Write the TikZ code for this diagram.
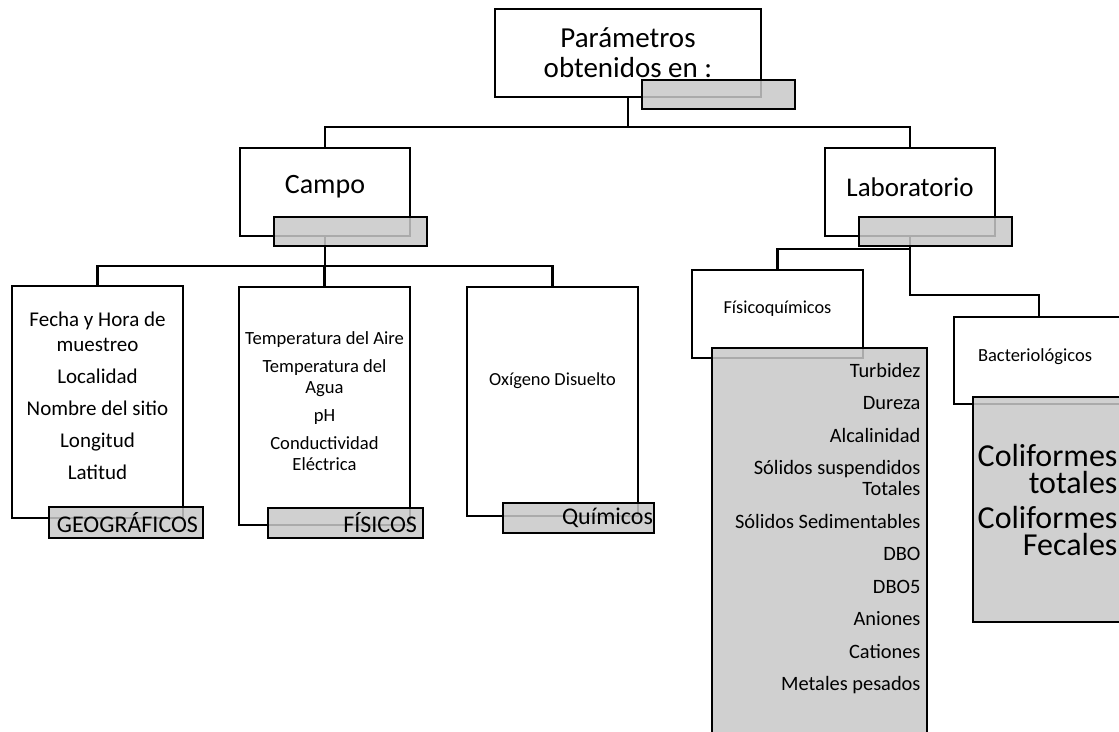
\documentclass[tikz,border=0pt]{standalone}
\usepackage{fontspec}
\setmainfont{Carlito}
\definecolor{boxgray}{RGB}{200,200,200}
\tikzset{
    whitebox/.style={draw,line width=2.3pt,fill=white,inner sep=0pt},
    graybox/.style={draw,line width=2.3pt,fill=boxgray,fill opacity=0.85,text opacity=1,inner sep=0pt},
    link/.style={line width=2.3pt},
}

\begin{document}
\begin{tikzpicture}[x=1pt,y=-1pt]
    \useasboundingbox (0,0) rectangle (1119,731);
    \clip (0,0) rectangle (1119,731);
    % white boxes
    \node[whitebox,minimum width=266pt,minimum height=88pt] (top) at (628,53) {};
    \node[whitebox,minimum width=170pt,minimum height=88pt] (campo) at (325,192) {};
    \node[whitebox,minimum width=170pt,minimum height=88pt] (lab) at (910,192) {};
    \node[whitebox,minimum width=171pt,minimum height=232pt] (geo) at (97.5,402) {};
    \node[whitebox,minimum width=171pt,minimum height=238pt] (fis) at (324.5,406) {};
    \node[whitebox,minimum width=171pt,minimum height=229pt] (quim) at (552.5,401.5) {};
    \node[whitebox,minimum width=171pt,minimum height=88pt] (fq) at (777.5,314) {};
    \node[whitebox,minimum width=170pt,minimum height=87pt] (bact) at (1039,360.5) {};
    % connectors
    \coordinate (bus1) at (628,127);
    \coordinate (bus2) at (325,266);
    \coordinate (bus3) at (910,249);
    \coordinate (bus4) at (910,295);
    \draw[link] (top.south) -- (bus1) -| (campo.north);
    \draw[link] (bus1) -| (lab.north);
    \draw[link] (campo.south) -- (bus2) -| (geo.north);
    \draw[link] (bus2) -| (fis.north);
    \draw[link] (bus2) -| (quim.north);
    \draw[link] (lab.south) -- (bus4) -| (bact.north);
    \draw[link] (bus3) -| (fq.north);
    % gray boxes
    \node[graybox,minimum width=153pt,minimum height=29pt] (topg) at (718.5,94.5) {};
    \node[graybox,minimum width=153pt,minimum height=29pt] (campog) at (350.5,231.5) {};
    \node[graybox,minimum width=153pt,minimum height=29pt] (labg) at (935.5,231.5) {};
    \node[graybox,minimum width=154pt,minimum height=31pt,text width=144pt,align=right,
        font=\fontsize{24}{26}\selectfont] (geog) at (126,522.5) {GEOGRÁFICOS};
    \node[graybox,minimum width=155pt,minimum height=30pt,text width=143pt,align=right,
        font=\fontsize{24}{26}\selectfont] (fisg) at (345.5,523) {FÍSICOS};
    \node[graybox,minimum width=151pt,minimum height=30pt,text width=149pt,align=right,
        font=\fontsize{24}{26}\selectfont] (quimg) at (578.5,518) {Químicos};
    \node[graybox,minimum width=215pt,minimum height=432pt] (fqg) at (819.5,564) {};
    \node[graybox,minimum width=187pt,minimum height=225pt] (bactg) at (1066.5,509.5) {};
    % texts
    \node[align=center,font=\fontsize{29}{30}\selectfont] (toptxt) at (628,53) {Parámetros\\obtenidos en :};
    \node[font=\fontsize{28}{30}\selectfont] (campotxt) at (325,187) {Campo};
    \node[font=\fontsize{27}{30}\selectfont] (labtxt) at (910,187) {Laboratorio};
    \node[align=center,font=\fontsize{21}{25}\selectfont] (geotxt) at (97.5,395.5)
        {Fecha y Hora de\\muestreo\\[7pt]Localidad\\[7pt]Nombre del sitio\\[7pt]Longitud\\[7pt]Latitud};
    \node[align=center,font=\fontsize{18.6}{21}\selectfont] (fistxt) at (324.5,401)
        {Temperatura del Aire\\[7pt]Temperatura del\\Agua\\[7pt]pH\\[7pt]Conductividad\\Eléctrica};
    \node[font=\fontsize{18.4}{21}\selectfont] (quimtxt) at (552.5,381) {Oxígeno Disuelto};
    \node[font=\fontsize{18.3}{21}\selectfont] (fqtxt) at (777.5,309) {Físicoquímicos};
    \node[font=\fontsize{18.5}{21}\selectfont] (bacttxt) at (1035,357) {Bacteriológicos};
    \node[anchor=east,align=right,font=\fontsize{20.4}{21}\selectfont] (fqlist) at (924,528.5)
        {Turbidez\\[11.5pt]Dureza\\[11.5pt]Alcalinidad\\[11.5pt]Sólidos suspendidos\\Totales\\[11.5pt]Sólidos Sedimentables\\[11.5pt]DBO\\[11.5pt]DBO5\\[11.5pt]Aniones\\[11.5pt]Cationes\\[11.5pt]Metales pesados};
    \node[anchor=east,align=right,font=\fontsize{32}{27}\selectfont] (bactlist) at (1121,500)
        {Coliformes\\totales\\[8pt]Coliformes\\Fecales};
\end{tikzpicture}
\end{document}
